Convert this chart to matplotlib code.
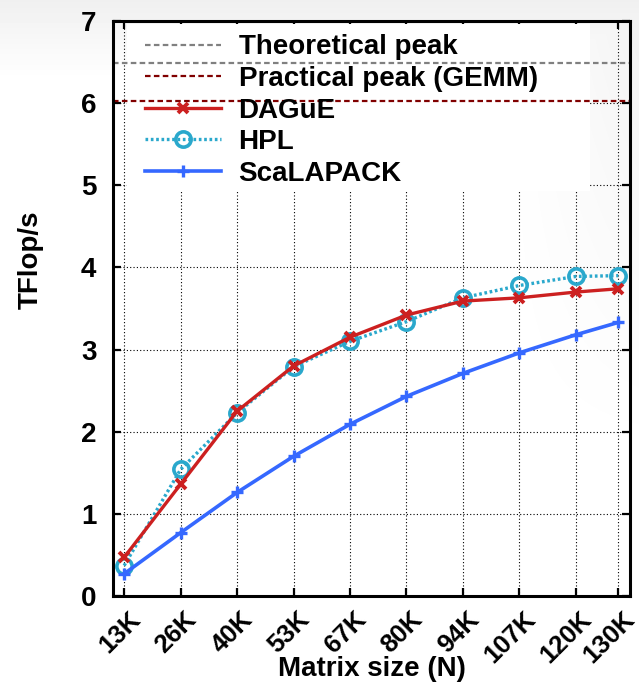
"""TFlop/s versus matrix size: DAGuE, HPL and ScaLAPACK."""
import numpy as np
import matplotlib
matplotlib.use("Agg")
import matplotlib.pyplot as plt
from matplotlib.patches import Rectangle

plt.rcParams['font.family'] = ['Liberation Sans', 'DejaVu Sans']
plt.rcParams['font.weight'] = 'bold'
plt.rcParams['font.size'] = 20

# data
n_values = [13333, 26667, 40000, 53333, 66667, 80000, 93333, 106667, 120000,
            130000]
n_labels = ["13K", "26K", "40K", "53K", "67K", "80K", "94K", "107K", "120K",
            "130K"]
dague = [0.47, 1.36, 2.25, 2.80, 3.15, 3.42, 3.59, 3.63, 3.70, 3.74]
hpl = [0.37, 1.54, 2.23, 2.79, 3.10, 3.34, 3.63, 3.78, 3.89, 3.90]
scalapack = [0.27, 0.77, 1.26, 1.70, 2.09, 2.43, 2.71, 2.96, 3.18, 3.33]
theoretical_peak = 6.49
practical_peak = 6.02

color_dague = "#cc2020"
color_hpl = "#2aa8cc"
color_scalapack = "#3568ff"

fig = plt.figure(figsize=(6.39, 6.84), dpi=100)

# light slide-like shading behind everything
bg = fig.add_axes([0, 0, 1, 1], zorder=-10)
yy, xx = np.mgrid[0:684, 0:639]
top = np.clip(1 - yy / 80.0, 0, 1) * 0.06
right = np.clip((xx - 500) / 139.0, 0, 1) * np.clip(1 - yy / 460.0, 0, 1) * 0.05
shade = 1 - np.maximum(top, right)
bg.imshow(shade, cmap="gray", vmin=0, vmax=1, aspect="auto",
          interpolation="bilinear")
bg.axis("off")

ax = fig.add_axes([0.177, 0.1287, 0.809, 0.8406])
ax.set_facecolor("none")

# white box under the key
ax.add_patch(Rectangle((0.027, 0.705), 0.896, 0.29, transform=ax.transAxes,
                       facecolor="white", edgecolor="none", zorder=1))

ax.axhline(theoretical_peak, color="#808080", linestyle=(0, (2.5, 1.5)),
           linewidth=1.6, label="Theoretical peak", zorder=2)
ax.axhline(practical_peak, color="#800000", linestyle=(0, (2.5, 1.5)),
           linewidth=1.6, label="Practical peak (GEMM)", zorder=2)

ax.plot(n_values, dague, color=color_dague, linewidth=2.4, marker="x",
        markersize=7, markeredgewidth=2.8, label="DAGuE", zorder=4)
ax.plot(n_values, hpl, color=color_hpl, linewidth=2.4,
        linestyle=(0, (0.8, 0.8)), marker="o", markersize=11,
        markerfacecolor="none", markeredgewidth=2.6, label="HPL", zorder=3)
ax.plot(n_values, scalapack, color=color_scalapack, linewidth=2.6, marker="+",
        markersize=9, markeredgewidth=2.4, label="ScaLAPACK", zorder=3)

ax.set_xlim(10730, 132800)
ax.set_ylim(0, 7)
ax.set_xticks(n_values)
ax.set_xticklabels([])
ax.set_yticks(range(0, 8))

# rotated size labels, right end just past each tick
for n, lab in zip(n_values, n_labels):
    ax.annotate(lab, xy=(n, 0), xycoords=("data", "axes fraction"),
                xytext=(15, -8), textcoords="offset points",
                rotation=45, ha="right", va="top", fontsize=18.5,
                fontweight="bold", annotation_clip=False)

ax.grid(True, color="black", linestyle=(0, (1, 2)), linewidth=0.8, zorder=0.5)
ax.set_axisbelow(True)
ax.tick_params(direction="in", length=6, width=1.6, top=True, right=True,
               labelsize=20)
ax.tick_params(axis="y", pad=12)
for side in ax.spines.values():
    side.set_linewidth(2.2)

ax.set_ylabel("TFlop/s", fontsize=20, fontweight="bold")
ax.yaxis.set_label_coords(-0.135, 0.584)
ax.set_xlabel("Matrix size (N)", fontsize=20, fontweight="bold")
ax.xaxis.set_label_coords(0.5, -0.105)

leg = ax.legend(loc="upper left", bbox_to_anchor=(0.04, 0.996), frameon=False,
                handlelength=2.75, handletextpad=0.62, labelspacing=0.2,
                borderaxespad=0, numpoints=1,
                prop={"size": 20, "weight": "bold"})
leg.set_zorder(5)

fig.savefig("out.png", dpi=100)
